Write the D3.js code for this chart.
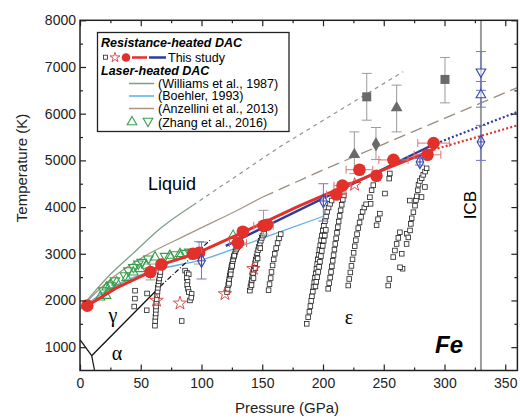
<!DOCTYPE html>
<html><head><meta charset="utf-8">
<script src="https://cdn.jsdelivr.net/npm/d3@7/dist/d3.min.js"></script>
<style>
html,body{margin:0;padding:0;background:#fff;}
svg{display:block;font-family:"Liberation Sans",Arial,Helvetica,sans-serif;}
</style></head>
<body>
<svg id="chart" width="520" height="418"></svg>
<script>
// ---------- axis ticks ----------
const xTicks=[0,50,100,150,200,250,300,350];
const xMinor=[25,75,125,175,225,275,325];
const yTicks=[1000,2000,3000,4000,5000,6000,7000,8000];
const yMinor=[1500,2500,3500,4500,5500,6500,7500];

// ---------- literature curves (P GPa, T K) ----------
const williamsSolid=[[0,1811],[10,2130],[25,2560],[45,3040],[66,3540],[93,4040]];
const williamsDash=[[93,4040],[165,5300],[266,6900]];
const anzelliniSolid=[[0,1811],[10,2090],[25,2450],[50,2900],[90,3430],[132,3965],[150,4210]];
const anzelliniDash=[[150,4210],[200,4795],[250,5350],[300,5900],[360,6560]];
const boehler=[[0,1811],[20,2180],[40,2450],[64,2660],[100,2870],[153,3360],[200,3800]];
// ---------- this study ----------
const redFit=[[6,1890],[30,2270],[58,2610],[67,2770],[96,3010],[134,3460],[180,4020],[215,4410],[250,4800],[291,5230]];
const redExtrap=[[291,5230],[360,5750]];
const blueFit=[[120,3170],[290,5330]];
const blueExtrap=[[290,5330],[360,6040]];
const gammaEps=[[9.6,817],[66,2300]];
const gammaEpsDash=[[66,2300],[107,3290]];
const alphaGamma=[[0,1160],[9.6,817]];
const alphaEps=[[9.6,817],[12,500]];
const meltRed=[[6,1890],[58,2610],[67,2770],[93,3000],[98,3020],[130,3230],[134,3470],[151,3600],[154,3620],[211,4270],[216,4460],[230,4800],[244,4670],[258,5010],[286,5120],[291,5370]];
const meltErrX=[[130,3230,7],[151,3600,8],[211,4270,8],[216,4460,7],[230,4800,11],[258,5010,12],[286,5120,11],[291,5370,13]];
const meltErrY=[[58,2610,2440,2780],[151,3600,3420,3930],[98,3020,2780,3260]];
const stars=[[63,2000],[82.3,1940],[119.3,2140],[142.7,2680],[226,4480]];
const squares=[
 [61.7,1460],[61.9,1560],[62.1,1650],[62.3,1720],[62.5,1800],[62.6,1870],[62.9,1950],[63.1,2030],[63.4,2110],[63.8,2190],[64.1,2270],[64.5,2340],[64.9,2410],[65.3,2470],[65.8,2540],[66.2,2610],
 [44.6,1870],[45.2,2040],[45.3,2210],[54.9,1790],[55.2,2150],
 [83.7,1560],[86.5,2640],[88,2590],[89.5,2560],[87.8,2480],[88.5,2400],[88.2,2330],[88.9,2250],[89.5,2180],[91.9,2140],[90.5,2000],[91.6,2060],
 [121.0,2180],[121.5,2250],[122.0,2330],[122.4,2400],[122.8,2460],[123.3,2530],[123.7,2590],[124.2,2650],[124.6,2710],[125.1,2770],[125.6,2830],[126.0,2880],[126.6,2940],[127.2,2990],[127.9,3040],[128.6,3090],[129.4,3130],[130.2,3160],[131.2,3190],[122.6,2360],[124.0,2560],[125.3,2740],[127.0,2960],
 [139.8,2210],[140.3,2290],[140.9,2370],[141.4,2440],[141.9,2510],[142.5,2590],[143.0,2660],[143.6,2730],[144.1,2800],[144.7,2870],[145.3,2940],[145.9,3010],[146.6,3080],[147.3,3150],[148.0,3220],[148.8,3280],[149.6,3340],[150.5,3390],[151.6,3430],[141.2,2330],[142.8,2480],[144.4,2690],[146.2,2900],[148.4,3120],
 [155.2,2220],[156.0,2350],[156.9,2480],[157.6,2610],[158.5,2750],[159.4,2880],[160.3,3000],[161.4,3120],[162.6,3230],[163.8,3330],[165.2,3420],
 [186.6,1500],[187.8,1640],[188.8,1760],[189.6,1880],[190.3,1990],[190.9,2090],[191.6,2190],[192.2,2290],[192.8,2390],[193.4,2490],[194.0,2580],[194.6,2680],[195.2,2780],[195.8,2880],[196.4,2980],[197.0,3080],[197.7,3180],[198.4,3290],[199.1,3390],[199.9,3500],[200.7,3600],[201.6,3700],[202.5,3800],[203.5,3900],[204.6,3990],[205.8,4070],[207.1,4140],
 [193.8,2300],[194.5,2400],[195.3,2500],[196.0,2610],[196.8,2720],[197.5,2830],[198.3,2950],[199.0,3060],[199.8,3170],[200.6,3280],[201.5,3390],[202.3,3510],
 [204.3,2250],[205.1,2370],[205.9,2490],[206.6,2610],[207.3,2730],[208.0,2850],[208.7,2970],[209.4,3090],[210.1,3210],[210.8,3330],[211.5,3450],[212.2,3570],[212.9,3690],[213.7,3810],[214.5,3930],[215.4,4050],[216.3,4160],[217.2,4250],
 [220.8,2320],[221.6,2460],[222.5,2600],[223.4,2740],[224.3,2880],[225.2,3020],[226.1,3160],[227.0,3290],[228.0,3420],[229.0,3550],[230.1,3670],[231.3,3790],[232.6,3900],[234.0,3990],[235.5,4060],[238.6,4210],[239.2,4070],[240.0,4360],[241.4,4470],
 [244.1,3610],[245.3,3740],[246.8,3860],[251.0,4290],[254.5,4610],[255.0,4720],
 [253.7,2320],[254.6,2460],[257.8,2930],[259.2,3070],[260.6,3210],[262.0,3340],[263.3,3460],[265.5,2680],[263.4,2710],[264.8,3000],[268.9,3430],
 [268.8,3210],[270.2,3350],[271.6,3500],[272.3,3640],[273.0,3760],[274.4,3890],[275.7,4030],[276.5,4150],[277.1,4230],[278.0,4360],[278.6,4480],[279.8,4560],[281.2,4620],[282.5,4690],[284.0,4760],[285.3,4830],[271.5,4140],[281.1,4215],[283.9,4430]
];
const zhangUp=[[16.5,2069],[21.4,2105],[22,2283],[24.7,2320],[30.2,2390],[38.4,2485],[43.9,2605],[49.4,2678],[54.9,2749],[61.7,2927],[74,2963],[82.3,3000],[126,3390]];
const zhangDown=[[19.2,2212],[25.5,2320],[28.8,2427],[37,2534],[39.8,2642],[43.9,2712],[48,2785],[50.8,2820],[56.2,2893],[70,2950],[78.2,2985],[86.4,3013],[90,3040]];
const blueDiamonds=[[100,2850,2460,3250],[200.3,4130,3700,4500],[279.8,4966,4900,5040],[330,5395,5000,5750]];
const blueUp=[[330,6400,6140,6690]];
const blueDown=[[330,6897,6500,7330]];
const greySquares=[[236,6361,5861,6863],[300.4,6734,6232,7204]];
const greyTriangles=[[225.8,5124,4717,5610],[260.6,6125,5610,6612]];
const greyDiamonds=[[243.6,5346,5017,5704]];
const icbP=330;

const RED="#e2302b", BLUE="#2a3c9c", LBLUE="#5cb0e2", WGREEN="#7f9f86", ANZ="#a89685", GREEN="#34a04c", GREY="#6a6a6a", EGREY="#9a9a9a";

const svg=d3.select("#chart");
const x=d3.scaleLinear().domain([0,360]).range([80,517.4]);
const y=d3.scaleLinear().domain([500,8000]).range([370.5,20.3]);
const line=d3.line().x(d=>x(d[0])).y(d=>y(d[1]));
const smooth=d3.line().x(d=>x(d[0])).y(d=>y(d[1])).curve(d3.curveMonotoneX);

svg.append("defs").append("clipPath").attr("id","clip").append("rect")
  .attr("x",x(0)).attr("y",y(8000)).attr("width",x(360)-x(0)).attr("height",y(500)-y(8000));
const g=svg.append("g").attr("clip-path","url(#clip)");

function path(data,stroke,w,dash,gen){
  g.append("path").attr("d",(gen||line)(data)).attr("fill","none").attr("stroke",stroke)
   .attr("stroke-width",w).attr("stroke-dasharray",dash||null);
}
g.append("line").attr("x1",x(icbP)).attr("x2",x(icbP)).attr("y1",y(8000)).attr("y2",y(500))
  .attr("stroke","#9c9c9c").attr("stroke-width",2);

path(williamsSolid,WGREEN,1.3,null,smooth);
path(williamsDash,"#8a9a8e",1.2,"4,4");
path(anzelliniSolid,ANZ,1.3,null,smooth);
path(anzelliniDash,"#9c8c7c",1.3,"12,6");
path(boehler,LBLUE,1.3,null,smooth);

path(gammaEps,"#111",1.3);
path(gammaEpsDash,"#111",1.2,"5,2,1,2");
path(alphaGamma,"#111",1.2);
path(alphaEps,"#111",1.2);

g.selectAll(".sq").data(squares).join("rect")
  .attr("x",d=>x(d[0])-2.3).attr("y",d=>y(d[1])-2.3).attr("width",4.6).attr("height",4.6)
  .attr("fill","#fff").attr("stroke","#222").attr("stroke-width",0.8);

const tri=d3.symbol().type(d3.symbolTriangle).size(40);
g.selectAll(".zu").data(zhangUp).join("path").attr("d",tri)
  .attr("transform",d=>`translate(${x(d[0])},${y(d[1])})`).attr("fill","none").attr("stroke",GREEN).attr("stroke-width",1.1);
g.selectAll(".zd").data(zhangDown).join("path").attr("d",tri)
  .attr("transform",d=>`translate(${x(d[0])},${y(d[1])}) rotate(180)`).attr("fill","none").attr("stroke",GREEN).attr("stroke-width",1.1);

const star=d3.symbol().type(d3.symbolStar).size(55);
g.selectAll(".st").data(stars).join("path").attr("d",star)
  .attr("transform",d=>`translate(${x(d[0])},${y(d[1])})`).attr("fill","none").attr("stroke","#d0403a").attr("stroke-width",0.9);

function vErr(data,col){
  data.forEach(d=>{
    g.append("line").attr("x1",x(d[0])).attr("x2",x(d[0])).attr("y1",y(d[2])).attr("y2",y(d[3])).attr("stroke",col).attr("stroke-width",1);
    [d[2],d[3]].forEach(v=>g.append("line").attr("x1",x(d[0])-5).attr("x2",x(d[0])+5).attr("y1",y(v)).attr("y2",y(v)).attr("stroke",col).attr("stroke-width",1));
  });
}
vErr(greySquares,EGREY); vErr(greyTriangles,EGREY); vErr(greyDiamonds,EGREY);
g.selectAll(".gs").data(greySquares).join("rect").attr("x",d=>x(d[0])-4.5).attr("y",d=>y(d[1])-4.5).attr("width",9).attr("height",9).attr("fill",GREY);
g.selectAll(".gt").data(greyTriangles).join("path").attr("d",d3.symbol().type(d3.symbolTriangle).size(60))
  .attr("transform",d=>`translate(${x(d[0])},${y(d[1])})`).attr("fill",GREY);
g.selectAll(".gd").data(greyDiamonds).join("path").attr("d",d3.symbol().type(d3.symbolDiamond).size(60))
  .attr("transform",d=>`translate(${x(d[0])},${y(d[1])})`).attr("fill",GREY);

path(blueFit,BLUE,2.4);
path(redFit,RED,3);
path(blueExtrap,BLUE,2.2,"2,2.2");
path(redExtrap,RED,2.2,"2,2.2");

vErr(meltErrY,EGREY);
meltErrX.forEach(d=>{
  g.append("line").attr("x1",x(d[0]-d[2])).attr("x2",x(d[0]+d[2])).attr("y1",y(d[1])).attr("y2",y(d[1])).attr("stroke","#e07070").attr("stroke-width",1);
  [d[0]-d[2],d[0]+d[2]].forEach(v=>g.append("line").attr("x1",x(v)).attr("x2",x(v)).attr("y1",y(d[1])-4).attr("y2",y(d[1])+4).attr("stroke","#e07070").attr("stroke-width",1));
});
g.selectAll(".rc").data(meltRed).join("circle").attr("cx",d=>x(d[0])).attr("cy",d=>y(d[1])).attr("r",6.3).attr("fill",RED);

vErr(blueDiamonds,"#7078c0"); vErr(blueUp,"#7078c0"); vErr(blueDown,"#7078c0");
const dia=d3.symbol().type(d3.symbolDiamond).size(50);
g.selectAll(".bd").data(blueDiamonds).join("path").attr("d",dia)
  .attr("transform",d=>`translate(${x(d[0])},${y(d[1])})`).attr("fill","#fff").attr("fill-opacity",0.6).attr("stroke","#3848b0").attr("stroke-width",1.1);
blueDiamonds.forEach(d=>{
  g.append("line").attr("x1",x(d[0])-4).attr("x2",x(d[0])+4).attr("y1",y(d[1])).attr("y2",y(d[1])).attr("stroke","#3848b0").attr("stroke-width",1);
  g.append("line").attr("x1",x(d[0])).attr("x2",x(d[0])).attr("y1",y(d[1])-5).attr("y2",y(d[1])+5).attr("stroke","#3848b0").attr("stroke-width",1);
});
g.selectAll(".bu").data(blueUp).join("path").attr("d",tri)
  .attr("transform",d=>`translate(${x(d[0])},${y(d[1])})`).attr("fill","#fff").attr("fill-opacity",0.6).attr("stroke","#3848b0").attr("stroke-width",1.1);
g.selectAll(".bdn").data(blueDown).join("path").attr("d",tri)
  .attr("transform",d=>`translate(${x(d[0])},${y(d[1])}) rotate(180)`).attr("fill","#fff").attr("fill-opacity",0.6).attr("stroke","#3848b0").attr("stroke-width",1.1);

// ---------- labels ----------
svg.append("text").attr("x",172).attr("y",190).attr("text-anchor","middle").attr("font-size",18).text("Liquid");
svg.append("text").attr("x",113).attr("y",322).attr("text-anchor","middle").attr("font-size",20).attr("font-family","Liberation Serif, serif").text("γ");
svg.append("text").attr("x",117).attr("y",360).attr("text-anchor","middle").attr("font-size",20).attr("font-family","Liberation Serif, serif").text("α");
svg.append("text").attr("x",349).attr("y",324).attr("text-anchor","middle").attr("font-size",20).attr("font-family","Liberation Serif, serif").text("ε");
svg.append("text").attr("x",449).attr("y",353).attr("text-anchor","middle").attr("font-size",24).attr("font-weight","bold").attr("font-style","italic").text("Fe");
svg.append("text").attr("transform","translate(476,205) rotate(-90)").attr("text-anchor","middle").attr("font-size",17).text("ICB");

// ---------- legend ----------
const lg=svg.append("g");
lg.append("rect").attr("x",97.5).attr("y",32.5).attr("width",191.5).attr("height",99).attr("fill","#fff").attr("stroke","#222").attr("stroke-width",1.3);
lg.append("text").attr("x",101).attr("y",47).attr("font-size",12.5).attr("font-weight","bold").attr("font-style","italic").text("Resistance-heated DAC");
lg.append("rect").attr("x",103.5).attr("y",55.2).attr("width",4).attr("height",4).attr("fill","#fff").attr("stroke","#222").attr("stroke-width",0.8);
lg.append("path").attr("d",d3.symbol().type(d3.symbolStar).size(30)).attr("transform","translate(115,57.5)").attr("fill","none").attr("stroke","#d0403a").attr("stroke-width",0.9);
lg.append("circle").attr("cx",126).attr("cy",57.5).attr("r",4.3).attr("fill",RED);
lg.append("line").attr("x1",132).attr("x2",147).attr("y1",57.5).attr("y2",57.5).attr("stroke",RED).attr("stroke-width",2.5);
lg.append("line").attr("x1",149).attr("x2",166).attr("y1",57.5).attr("y2",57.5).attr("stroke",BLUE).attr("stroke-width",2.5);
lg.append("text").attr("x",168).attr("y",61.5).attr("font-size",12.5).text("This study");
lg.append("text").attr("x",101).attr("y",75).attr("font-size",12.5).attr("font-weight","bold").attr("font-style","italic").text("Laser-heated DAC");
const legLines=[["(Williams et al., 1987)",WGREEN,83.5],["(Boehler, 1993)",LBLUE,96],["(Anzellini et al., 2013)",ANZ,108.5]];
legLines.forEach(r=>{
  lg.append("line").attr("x1",129).attr("x2",154).attr("y1",r[2]).attr("y2",r[2]).attr("stroke",r[1]).attr("stroke-width",1.5);
  lg.append("text").attr("x",158).attr("y",r[2]+4.3).attr("font-size",12.5).text(r[0]);
});
lg.append("path").attr("d",tri).attr("transform","translate(132,122)").attr("fill","none").attr("stroke",GREEN).attr("stroke-width",1.1);
lg.append("path").attr("d",tri).attr("transform","translate(148,121) rotate(180)").attr("fill","none").attr("stroke",GREEN).attr("stroke-width",1.1);
lg.append("text").attr("x",158).attr("y",126.5).attr("font-size",12.5).text("(Zhang et al., 2016)");

// ---------- axes ----------
const ax=svg.append("g").attr("class","axes");
function styleAxis(sel){ sel.select(".domain").remove(); sel.selectAll(".tick line").attr("stroke","#222").attr("stroke-width",1.2); sel.selectAll("text").attr("font-size",14).attr("fill","#222"); }
ax.append("g").attr("transform",`translate(0,${y(500)})`).call(d3.axisBottom(x).tickValues(xTicks).tickSize(-6).tickPadding(8).tickFormat(d3.format("d"))).call(styleAxis);
ax.append("g").attr("transform",`translate(0,${y(500)})`).call(d3.axisBottom(x).tickValues(xMinor).tickSize(-3).tickFormat("")).call(styleAxis);
ax.append("g").attr("transform",`translate(0,${y(8000)})`).call(d3.axisTop(x).tickValues(xTicks).tickSize(-6).tickFormat("")).call(styleAxis);
ax.append("g").attr("transform",`translate(0,${y(8000)})`).call(d3.axisTop(x).tickValues(xMinor).tickSize(-3).tickFormat("")).call(styleAxis);
ax.append("g").attr("transform",`translate(${x(0)},0)`).call(d3.axisLeft(y).tickValues(yTicks).tickSize(-6).tickPadding(4).tickFormat(d3.format("d"))).call(styleAxis);
ax.append("g").attr("transform",`translate(${x(0)},0)`).call(d3.axisLeft(y).tickValues(yMinor).tickSize(-3).tickFormat("")).call(styleAxis);
ax.append("g").attr("transform",`translate(${x(360)},0)`).call(d3.axisRight(y).tickValues(yTicks).tickSize(-6).tickFormat("")).call(styleAxis);
ax.append("g").attr("transform",`translate(${x(360)},0)`).call(d3.axisRight(y).tickValues(yMinor).tickSize(-3).tickFormat("")).call(styleAxis);
ax.append("rect").attr("x",x(0)).attr("y",y(8000)).attr("width",x(360)-x(0)).attr("height",y(500)-y(8000)).attr("fill","none").attr("stroke","#222").attr("stroke-width",1.5);

svg.append("text").attr("x",287).attr("y",413).attr("text-anchor","middle").attr("font-size",15).attr("fill","#222").text("Pressure (GPa)");
svg.append("text").attr("transform","translate(27,168) rotate(-90)").attr("text-anchor","middle").attr("font-size",15).attr("fill","#222").text("Temperature (K)");
</script>
</body></html>
